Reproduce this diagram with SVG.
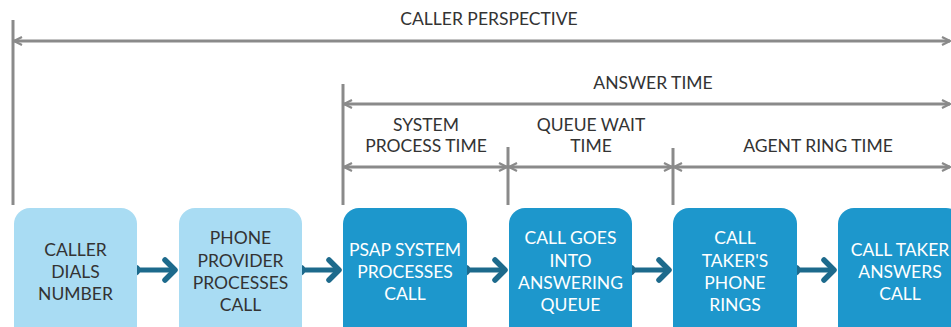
<svg xmlns="http://www.w3.org/2000/svg" width="951" height="327" viewBox="0 0 951 327">
<defs>
<style>
.lbl{font-family:Lato,"Open Sans","Liberation Sans",sans-serif;font-size:17.5px;fill:#333;text-anchor:middle}
.bt{font-family:Lato,"Open Sans","Liberation Sans",sans-serif;font-size:17.5px;text-anchor:middle}
.light rect{fill:#a9dcf3}
.light text{fill:#333}
.dark rect{fill:#1d97cc}
.dark text{fill:#fff}
.dim{stroke:#8a8a8a;stroke-width:3;fill:none}
.tick{stroke:#8a8a8a;stroke-width:3;fill:none}
.con line{stroke:#1d6a8c;stroke-width:5}
.con path{stroke:#1d6a8c;stroke-width:5.5;fill:none;stroke-linecap:round;stroke-linejoin:round}
.con circle{fill:#1d6a8c}
</style>
<marker id="ah" viewBox="0 0 10 10" refX="9" refY="5" markerWidth="10" markerHeight="10" markerUnits="userSpaceOnUse" orient="auto-start-reverse">
<path d="M1,1 L9,5 L1,9" fill="none" stroke="#8a8a8a" stroke-width="2.2"/>
</marker>
</defs>
<g id="dimensions">
<line class="tick" x1="13" y1="20" x2="13" y2="205"/>
<line class="tick" x1="343" y1="84" x2="343" y2="205"/>
<line class="tick" x1="508" y1="147" x2="508" y2="205"/>
<line class="tick" x1="673" y1="148" x2="673" y2="205"/>
<line class="dim" x1="14" y1="41" x2="950" y2="41" marker-start="url(#ah)" marker-end="url(#ah)"/>
<line class="dim" x1="344" y1="104" x2="950" y2="104" marker-start="url(#ah)" marker-end="url(#ah)"/>
<line class="dim" x1="344" y1="167" x2="507" y2="167" marker-start="url(#ah)" marker-end="url(#ah)"/>
<line class="dim" x1="509" y1="167" x2="672" y2="167" marker-start="url(#ah)" marker-end="url(#ah)"/>
<line class="dim" x1="674" y1="167" x2="950" y2="167" marker-start="url(#ah)" marker-end="url(#ah)"/>
<text class="lbl" x="489" y="25">CALLER PERSPECTIVE</text>
<text class="lbl" x="653" y="89">ANSWER TIME</text>
<text class="lbl" x="426" y="131">SYSTEM</text>
<text class="lbl" x="426" y="152">PROCESS TIME</text>
<text class="lbl" x="591" y="131">QUEUE WAIT</text>
<text class="lbl" x="591" y="152">TIME</text>
<text class="lbl" x="818" y="152">AGENT RING TIME</text>
</g>
<g id="connectors" class="con">
<circle cx="135" cy="270" r="5.5"/><line x1="135" y1="270" x2="174" y2="270"/><path d="M165,260 L175,270 L165,280"/>
<circle cx="300" cy="270" r="5.5"/><line x1="300" y1="270" x2="338" y2="270"/><path d="M329,260 L339,270 L329,280"/>
<circle cx="465" cy="270" r="5.5"/><line x1="465" y1="270" x2="504" y2="270"/><path d="M495,260 L505,270 L495,280"/>
<circle cx="630" cy="270" r="5.5"/><line x1="630" y1="270" x2="668" y2="270"/><path d="M659,260 L669,270 L659,280"/>
<circle cx="795" cy="270" r="5.5"/><line x1="795" y1="270" x2="833" y2="270"/><path d="M824,260 L834,270 L824,280"/>
</g>
<g id="n1" class="light"><rect x="14" y="208" width="123" height="135" rx="16"/>
<text class="bt" x="75.5" y="256">CALLER</text><text class="bt" x="75.5" y="278">DIALS</text><text class="bt" x="75.5" y="300">NUMBER</text></g>
<g id="n2" class="light"><rect x="179" y="208" width="123" height="135" rx="16"/>
<text class="bt" x="240.5" y="244">PHONE</text><text class="bt" x="240.5" y="267">PROVIDER</text><text class="bt" x="240.5" y="289">PROCESSES</text><text class="bt" x="240.5" y="311">CALL</text></g>
<g id="n3" class="dark"><rect x="343" y="208" width="124" height="135" rx="16"/>
<text class="bt" x="405" y="256">PSAP SYSTEM</text><text class="bt" x="405" y="278">PROCESSES</text><text class="bt" x="405" y="300">CALL</text></g>
<g id="n4" class="dark"><rect x="509" y="208" width="123" height="135" rx="16"/>
<text class="bt" x="570.5" y="244">CALL GOES</text><text class="bt" x="570.5" y="267">INTO</text><text class="bt" x="570.5" y="289">ANSWERING</text><text class="bt" x="570.5" y="311">QUEUE</text></g>
<g id="n5" class="dark"><rect x="673" y="208" width="124" height="135" rx="16"/>
<text class="bt" x="735" y="244">CALL</text><text class="bt" x="735" y="267">TAKER'S</text><text class="bt" x="735" y="289">PHONE</text><text class="bt" x="735" y="311">RINGS</text></g>
<g id="n6" class="dark"><rect x="838" y="208" width="124" height="135" rx="16"/>
<text class="bt" x="900" y="256">CALL TAKER</text><text class="bt" x="900" y="278">ANSWERS</text><text class="bt" x="900" y="300">CALL</text></g>
</svg>
